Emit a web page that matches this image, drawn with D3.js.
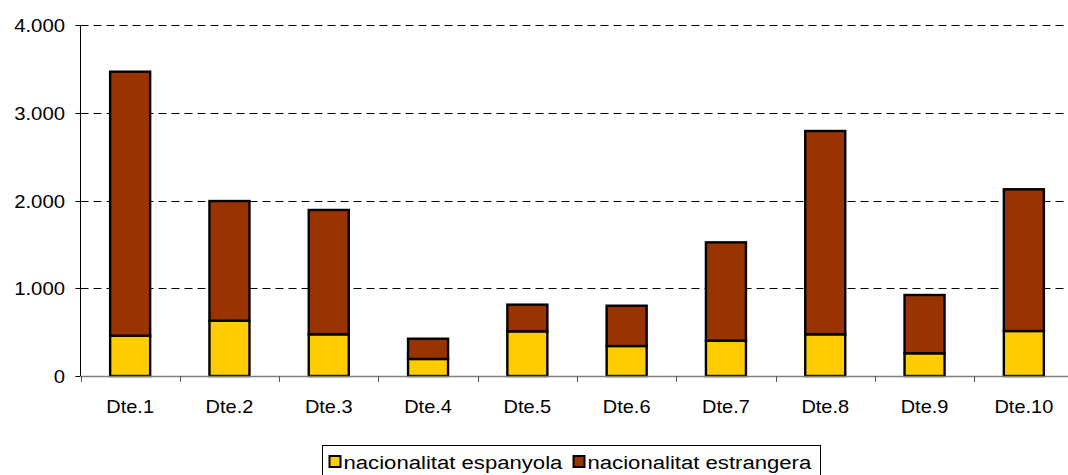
<!DOCTYPE html>
<html>
<head>
<meta charset="utf-8">
<script src="https://cdn.jsdelivr.net/npm/d3@7/dist/d3.min.js"></script>
<style>
  html, body { margin: 0; padding: 0; background: #fff; overflow: hidden; }
  text { font-family: "Liberation Sans", Arial, sans-serif; fill: #000; }
</style>
</head>
<body>
<svg id="chart" width="1068" height="475"></svg>
<script>
const categories = ["Dte.1","Dte.2","Dte.3","Dte.4","Dte.5","Dte.6","Dte.7","Dte.8","Dte.9","Dte.10"];
const espanyola  = [459, 630, 475, 194, 509, 342, 403, 475, 259, 513];
const estrangera = [3009, 1364, 1417, 231, 304, 459, 1120, 2317, 664, 1615];
const seriesNames = ["nacionalitat espanyola", "nacionalitat estrangera"];
const seriesColors = ["#FFCC00", "#993300"];
const yTicks = [0, 1000, 2000, 3000, 4000];
const yTickLabels = ["0", "1.000", "2.000", "3.000", "4.000"];

const svg = d3.select("#chart");
svg.append("rect").attr("width", 1068).attr("height", 475).attr("fill", "#fff");

const plotLeft = 80.5, plotRight = 1073.5, plotTop = 25, plotBottom = 376;
const x = d3.scaleBand().domain(categories).range([plotLeft, plotRight])
  .paddingInner(0.597).paddingOuter(0.2985);
const y = d3.scaleLinear().domain([0, 4000]).range([plotBottom, plotTop]);
const step = x.step();

function stretchedText(g, tx, ty, str, size, sx, anchor) {
  return g.append("text")
    .attr("transform", `translate(${tx},${ty}) scale(${sx},1)`)
    .attr("font-size", size)
    .attr("text-anchor", anchor || "start")
    .text(str);
}

// gridlines
const grid = svg.append("g");
yTicks.filter(v => v > 0).forEach(v => {
  grid.append("line")
    .attr("x1", plotLeft).attr("x2", plotRight)
    .attr("y1", Math.round(y(v)) + 0.5).attr("y2", Math.round(y(v)) + 0.5)
    .attr("stroke", "#000").attr("stroke-width", 1)
    .attr("stroke-dasharray", "8,5");
});

// stacked bars
const data = categories.map((c, i) => ({ cat: c, esp: espanyola[i], est: estrangera[i] }));
const stack = d3.stack().keys(["esp", "est"])(data);
stack.forEach((layer, li) => {
  svg.append("g").selectAll("rect").data(layer).join("rect")
    .attr("x", d => x(d.data.cat))
    .attr("width", x.bandwidth())
    .attr("y", d => y(d[1]))
    .attr("height", d => y(d[0]) - y(d[1]))
    .attr("fill", seriesColors[li])
    .attr("stroke", "#000")
    .attr("stroke-width", 2.4);
});

// y axis
const ya = svg.append("g");
ya.append("line").attr("x1", plotLeft).attr("x2", plotLeft).attr("y1", plotTop).attr("y2", plotBottom)
  .attr("stroke", "#000").attr("stroke-width", 1);
yTicks.forEach((v, i) => {
  const yy = Math.round(y(v)) + 0.5;
  ya.append("line").attr("x1", plotLeft - 5).attr("x2", plotLeft).attr("y1", yy).attr("y2", yy)
    .attr("stroke", "#000");
  stretchedText(ya, 65, yy + 6.5, yTickLabels[i], 18, 1.13, "end");
});

// x axis
const xa = svg.append("g");
xa.append("line").attr("x1", plotLeft).attr("x2", plotRight).attr("y1", plotBottom + 0.5).attr("y2", plotBottom + 0.5)
  .attr("stroke", "#808080").attr("stroke-width", 1.5);
d3.range(categories.length + 1).forEach(k => {
  const xx = Math.round(plotLeft + k * step) + 0.5;
  xa.append("line").attr("x1", xx).attr("x2", xx).attr("y1", plotBottom).attr("y2", plotBottom + 6)
    .attr("stroke", "#555");
});
categories.forEach(c => {
  stretchedText(xa, x(c) + x.bandwidth() / 2, 412.5, c, 18, 1.11, "middle");
});

// legend
const lg = svg.append("g");
lg.append("rect").attr("x", 322.5).attr("y", 445.5).attr("width", 498).attr("height", 40)
  .attr("fill", "#fff").attr("stroke", "#000").attr("stroke-width", 1);
const legX = [329.5, 573.5];
seriesNames.forEach((n, i) => {
  lg.append("rect").attr("x", legX[i]).attr("y", 456).attr("width", 11).attr("height", 11)
    .attr("fill", seriesColors[i]).attr("stroke", "#000").attr("stroke-width", 2);
  stretchedText(lg, legX[i] + 14, 468.5, n, 18, 1.23, "start");
});
</script>
</body>
</html>
